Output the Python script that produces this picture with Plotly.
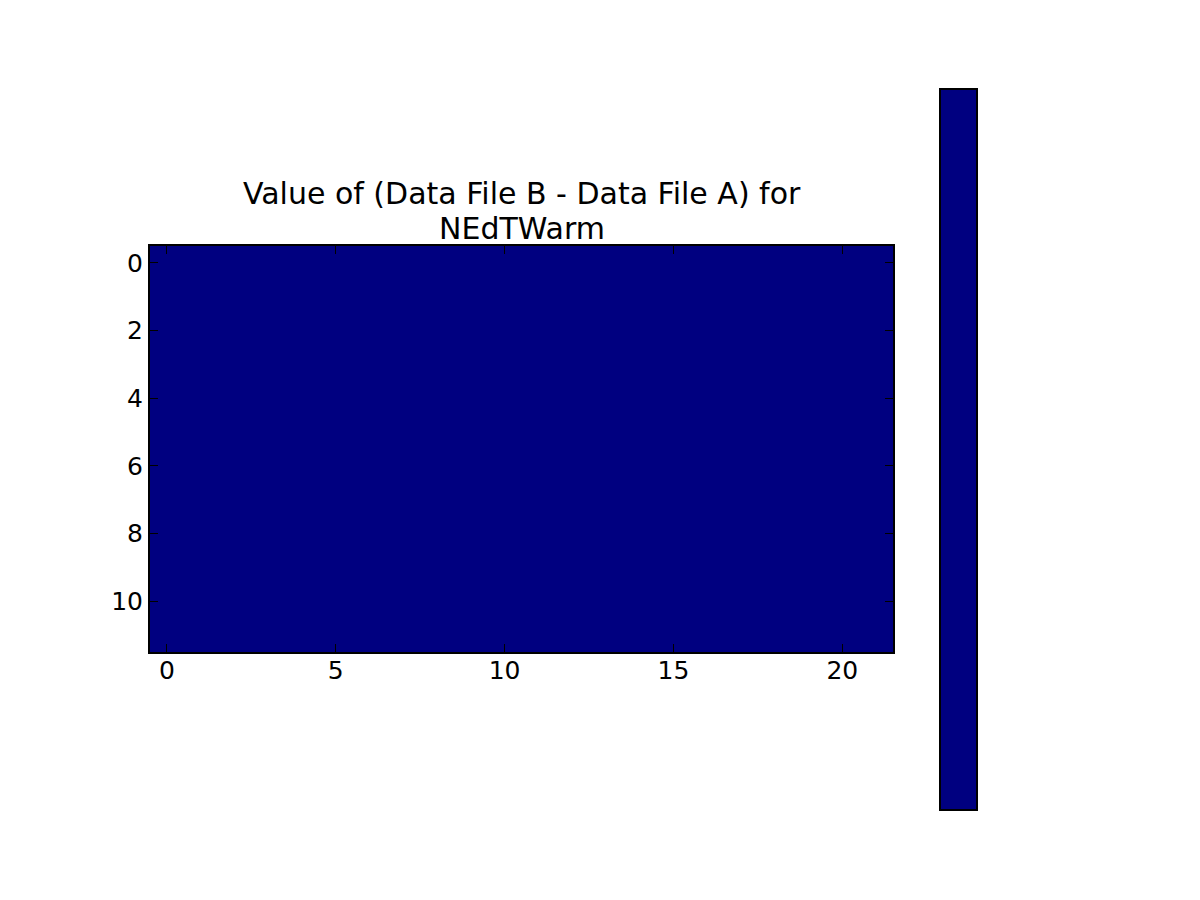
import plotly.graph_objects as go

# Column and row indices of the difference grid
cols = list(range(22))
rows = list(range(12))

# Difference values (Data File B - Data File A), all zero
diff_values = [
    [0, 0, 0, 0, 0, 0, 0, 0, 0, 0, 0, 0, 0, 0, 0, 0, 0, 0, 0, 0, 0, 0],
    [0, 0, 0, 0, 0, 0, 0, 0, 0, 0, 0, 0, 0, 0, 0, 0, 0, 0, 0, 0, 0, 0],
    [0, 0, 0, 0, 0, 0, 0, 0, 0, 0, 0, 0, 0, 0, 0, 0, 0, 0, 0, 0, 0, 0],
    [0, 0, 0, 0, 0, 0, 0, 0, 0, 0, 0, 0, 0, 0, 0, 0, 0, 0, 0, 0, 0, 0],
    [0, 0, 0, 0, 0, 0, 0, 0, 0, 0, 0, 0, 0, 0, 0, 0, 0, 0, 0, 0, 0, 0],
    [0, 0, 0, 0, 0, 0, 0, 0, 0, 0, 0, 0, 0, 0, 0, 0, 0, 0, 0, 0, 0, 0],
    [0, 0, 0, 0, 0, 0, 0, 0, 0, 0, 0, 0, 0, 0, 0, 0, 0, 0, 0, 0, 0, 0],
    [0, 0, 0, 0, 0, 0, 0, 0, 0, 0, 0, 0, 0, 0, 0, 0, 0, 0, 0, 0, 0, 0],
    [0, 0, 0, 0, 0, 0, 0, 0, 0, 0, 0, 0, 0, 0, 0, 0, 0, 0, 0, 0, 0, 0],
    [0, 0, 0, 0, 0, 0, 0, 0, 0, 0, 0, 0, 0, 0, 0, 0, 0, 0, 0, 0, 0, 0],
    [0, 0, 0, 0, 0, 0, 0, 0, 0, 0, 0, 0, 0, 0, 0, 0, 0, 0, 0, 0, 0, 0],
    [0, 0, 0, 0, 0, 0, 0, 0, 0, 0, 0, 0, 0, 0, 0, 0, 0, 0, 0, 0, 0, 0],
]

x_ticks = [0, 5, 10, 15, 20]
y_ticks = [0, 2, 4, 6, 8, 10]
title_lines = ["Value of (Data File B - Data File A) for", "NEdTWarm"]

NAVY = "#000080"
FONT = "DejaVu Sans"

# plot area in pixels
L, R, T, B = 150, 893, 246, 652
PW, PH = R - L, B - T

fig = go.Figure(
    go.Heatmap(
        z=diff_values,
        x=cols,
        y=rows,
        zmin=-1,
        zmax=1,
        colorscale=[[0, NAVY], [1, NAVY]],
        hoverinfo="x+y+z",
        colorbar=dict(
            x=(940 - L) / PW,
            xanchor="left",
            y=(B - 449.5) / PH,
            yanchor="middle",
            lenmode="fraction",
            len=721 / PH,
            thicknessmode="pixels",
            thickness=37,
            outlinewidth=2,
            outlinecolor="black",
            showticklabels=False,
            ticks="",
            xpad=0,
            ypad=0,
            borderwidth=0,
        ),
    )
)

axis_common = dict(
    showgrid=False,
    zeroline=False,
    showline=True,
    linecolor="black",
    linewidth=2,
    mirror="ticks",
    ticks="inside",
    ticklen=8,
    tickwidth=1,
    tickcolor="black",
    tickfont=dict(family=FONT, size=25, color="black"),
)

fig.update_layout(
    width=1200,
    height=900,
    paper_bgcolor="white",
    plot_bgcolor="white",
    margin=dict(l=L, r=1200 - R, t=T, b=900 - B, autoexpand=False),
    font=dict(family=FONT, color="black"),
    xaxis=dict(range=[-0.5, 21.5], tickvals=x_ticks, ticktext=[str(v) for v in x_ticks],
               ticklabelstandoff=-5, **axis_common),
    yaxis=dict(range=[11.5, -0.5], tickvals=y_ticks, ticktext=[str(v) for v in y_ticks], **axis_common),
    annotations=[
        dict(
            text=line,
            xref="paper",
            yref="paper",
            x=0.5,
            y=1,
            xanchor="center",
            yanchor="middle",
            yshift=shift,
            showarrow=False,
            font=dict(family=FONT, size=30, color="black"),
        )
        for line, shift in zip(title_lines, [T - 193, T - 228])
    ],
)

fig.write_html(
    "out.html",
    config={"displayModeBar": False},
    post_script="document.body.style.margin='0';",
)
